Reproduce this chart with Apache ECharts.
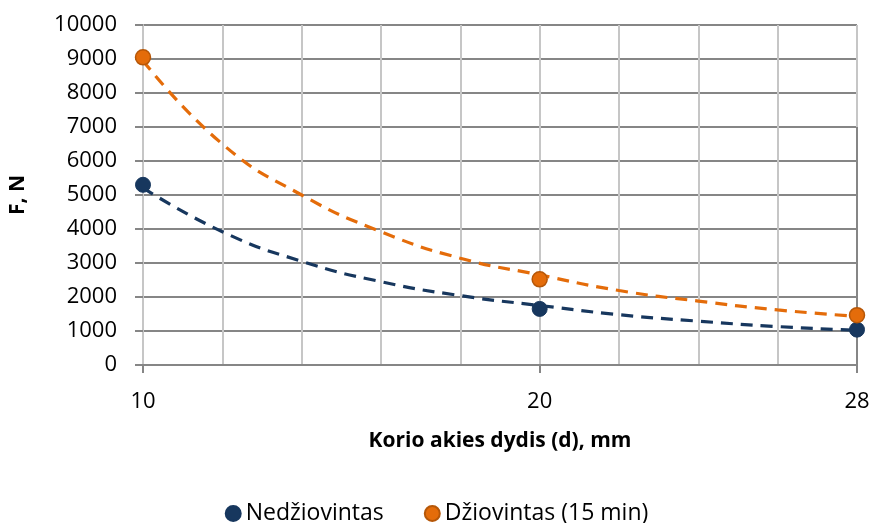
<!DOCTYPE html>
<html>
<head>
<meta charset="utf-8">
<script src="https://cdn.jsdelivr.net/npm/echarts@6/dist/echarts.min.js"></script>
<style>
html,body{margin:0;padding:0;background:#fff;}
#c{width:873px;height:523px;}
</style>
</head>
<body>
<div id="c"></div>
<script>
// measured points
const xPoints = [10, 20, 28];
const nedziovintas = [5300, 1650, 1040];
const dziovintas = [9050, 2520, 1465];
// dashed trend lines
const trendX = [10, 12, 14, 16, 18, 20, 22, 24, 26, 28];
const trendNed = [5210, 3920, 3050, 2450, 2040, 1750, 1480, 1290, 1130, 1020];
const trendDz = [8950, 6500, 5000, 3920, 3140, 2650, 2190, 1880, 1620, 1430];
const xLabels = [10, 20, 28];
const seriesNames = ['Nedžiovintas', 'Džiovintas (15 min)'];

const FONT = 'Open Sans';
const BLUE = '#17375E';
const ORANGE = '#E46C0A';

function pairs(xs, ys) { return xs.map((x, i) => [x, ys[i]]); }

const chart = echarts.init(document.getElementById('c'), null, {renderer: 'canvas'});
chart.setOption({
  animation: false,
  textStyle: {fontFamily: FONT},
  grid: {left: 137, right: 16, top: 25, bottom: 158},
  legend: {
    bottom: -7,
    left: 'center',
    icon: 'circle',
    itemWidth: 15,
    itemHeight: 15,
    itemGap: 40,
    textStyle: {fontFamily: FONT, fontSize: 23, color: '#000'},
    data: seriesNames
  },
  xAxis: [{
    type: 'value',
    min: 10, max: 28, interval: 2,
    name: 'Korio akies dydis (d), mm',
    nameLocation: 'middle',
    nameGap: 66,
    nameTextStyle: {fontFamily: FONT, fontSize: 21, fontWeight: 'bold', color: '#000'},
    axisLine: {show: true, lineStyle: {color: '#868686', width: 2}},
    axisTick: {show: false},
    axisLabel: {
      margin: 26, fontFamily: FONT, fontSize: 22, color: '#000',
      showMinLabel: true, showMaxLabel: true,
      formatter: v => (xLabels.indexOf(v) >= 0 ? String(v) : '')
    },
    splitLine: {show: true, lineStyle: {color: '#C6C6C6', width: 2}}
  }, {
    type: 'value',
    min: 10, max: 28, interval: 10,
    position: 'bottom',
    axisLine: {show: false},
    axisTick: {show: true, length: 8, lineStyle: {color: '#868686', width: 2}},
    axisLabel: {show: false},
    splitLine: {show: false}
  }],
  yAxis: {
    type: 'value',
    min: 0, max: 10000, interval: 1000,
    name: 'F, N',
    nameLocation: 'middle',
    nameGap: 114,
    nameTextStyle: {fontFamily: FONT, fontSize: 21, fontWeight: 'bold', color: '#000'},
    axisLine: {show: true, lineStyle: {color: '#C6C6C6', width: 2}},
    axisTick: {show: true, length: 8, lineStyle: {color: '#868686', width: 2}},
    axisLabel: {margin: 26, fontFamily: FONT, fontSize: 22, color: '#000', formatter: v => String(v)},
    splitLine: {show: true, lineStyle: {color: '#868686', width: 2}}
  },
  series: [
    {
      name: 'trend1', type: 'line', smooth: true, showSymbol: false, symbol: 'none',
      data: pairs(trendX, trendNed),
      lineStyle: {color: BLUE, width: 3.2, type: [12, 8]},
      z: 3, silent: true,
      markLine: {
        silent: true, symbol: 'none', label: {show: false},
        lineStyle: {color: '#868686', width: 2, type: 'solid'},
        data: [[{coord: [28, 0]}, {coord: [28, 7000]}]]
      }
    },
    {
      name: 'trend2', type: 'line', smooth: true, showSymbol: false, symbol: 'none',
      data: pairs(trendX, trendDz),
      lineStyle: {color: ORANGE, width: 3.2, type: [12, 8]},
      z: 3, silent: true
    },
    {
      name: seriesNames[0], type: 'scatter', symbol: 'circle', symbolSize: 15,
      data: pairs(xPoints, nedziovintas),
      itemStyle: {color: BLUE, borderColor: BLUE, borderWidth: 1, opacity: 1},
      z: 5
    },
    {
      name: seriesNames[1], type: 'scatter', symbol: 'circle', symbolSize: 15,
      data: pairs(xPoints, dziovintas),
      itemStyle: {color: ORANGE, borderColor: '#B65708', borderWidth: 1.5, opacity: 1},
      z: 5
    }
  ]
});
</script>
</body>
</html>
